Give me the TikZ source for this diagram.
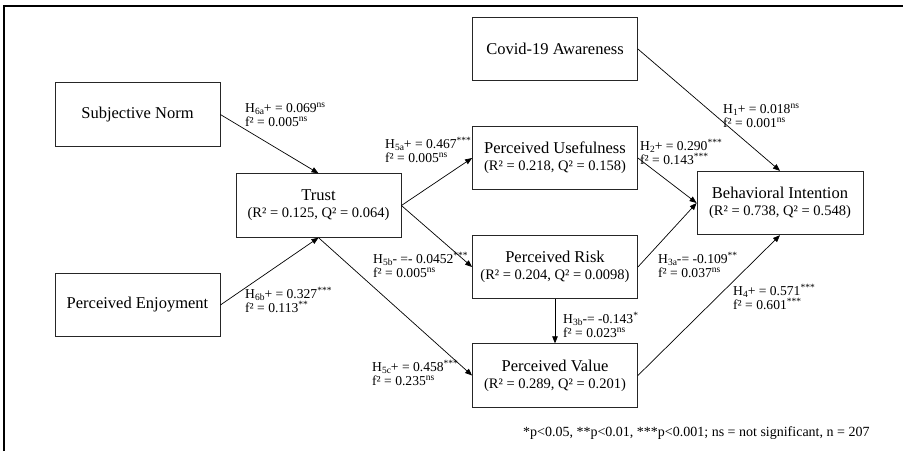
\documentclass[tikz,border=0pt]{standalone}
\usepackage{fontspec}
\setmainfont{Liberation Serif}
\usetikzlibrary{arrows.meta}
\newcommand\fitline[1]{\\[-2pt]{\fontsize{14.5}{17}\selectfont #1}}
\newcommand\sig[1]{\raisebox{4.6pt}{\fontsize{9.5}{10}\selectfont #1}}
\newcommand\hyp[1]{H\raisebox{-2.6pt}{\fontsize{9.5}{10}\selectfont #1}}
\begin{document}
\begin{tikzpicture}[x=1pt,y=-1pt,
  box/.style={draw=black!85, line width=0.8pt, minimum width=165pt, minimum height=63.5pt,
    inner sep=0pt, align=center, font=\fontsize{16.5}{19}\selectfont},
  link/.style={line width=0.7pt, -{Triangle[length=7pt,width=5.5pt]}},
  % labels are anchored at the baseline of their second line
  lab/.style={anchor=base west, align=left, inner sep=0pt, font=\fontsize{13.6}{14.5}\selectfont}]
\useasboundingbox (0,0) rectangle (903,451);

% frame
\draw[line width=2pt] (4,451) -- (4,5.5) -- (903,5.5);

% constructs
\node[box] (sn) at (137.5,114.5) {Subjective Norm};
\node[box] (pe) at (137.5,305) {Perceived Enjoyment};
\node[box] (tr) at (318.5,205.5) {Trust\fitline{(R² = 0.125, Q² = 0.064)}};
\node[box] (cv) at (555,49) {Covid-19 Awareness};
\node[box] (pu) at (555,158) {Perceived Usefulness\fitline{(R² = 0.218, Q² = 0.158)}};
\node[box] (pr) at (555,267) {Perceived Risk\fitline{(R² = 0.204, Q² = 0.0098)}};
\node[box] (pv) at (555,375.5) {Perceived Value\fitline{(R² = 0.289, Q² = 0.201)}};
\node[box, minimum width=166pt] (bi) at (780,203) {Behavioral Intention\fitline{(R² = 0.738, Q² = 0.548)}};

% paths
\draw[link] (sn.east) -- (tr.north);
\draw[link] (pe.east) -- (tr.south);
\draw[link] (tr.east) -- (pu.west);
\draw[link] (tr.east) -- (pr.west);
\draw[link] (tr.south) -- (pv.west);
\draw[link] (cv.east) -- (bi.north);
\draw[link] (pu.east) -- (bi.west);
\draw[link] (pr.east) -- (bi.west);
\draw[link] (pv.east) -- (bi.south);
\draw[link] (pr.south) -- (pv.north);

% path coefficients
\node[lab] (l6a) at (245,126.5) {\hyp{6a}+ = 0.069\sig{ns}\\f² = 0.005\sig{ns}};
\node[lab] (l6b) at (245,312.5) {\hyp{6b}+ = 0.327\sig{***}\\f² = 0.113\sig{**}};
\node[lab] (l5a) at (385,162.5) {\hyp{5a}+ = 0.467\sig{***}\\f² = 0.005\sig{ns}};
\node[lab] (l5b) at (373,277.5) {\hyp{5b}- =- 0.0452\sig{***}\\f² = 0.005\sig{ns}};
\node[lab] (l5c) at (372,385.5) {\hyp{5c}+ = 0.458\sig{***}\\f² = 0.235\sig{ns}};
\node[lab] (l1) at (723,127.5) {\hyp{1}+ = 0.018\sig{ns}\\f² = 0.001\sig{ns}};
\node[lab] (l2) at (640,164.5) {\hyp{2}+ = 0.290\sig{***}\\f² = 0.143\sig{***}};
\node[lab] (l3a) at (658,277.5) {\hyp{3a}-= -0.109\sig{**}\\f² = 0.037\sig{ns}};
\node[lab] (l4) at (733,309.5) {\hyp{4}+ = 0.571\sig{***}\\f² = 0.601\sig{***}};
\node[lab] (l3b) at (563,337.5) {\hyp{3b}-= -0.143\sig{*}\\f² = 0.023\sig{ns}};

% note
\node[anchor=base west, inner sep=0pt, font=\fontsize{14}{16}\selectfont] (note) at (523,436)
  {*p<0.05, **p<0.01, ***p<0.001; ns = not significant, n = 207};
\end{tikzpicture}
\end{document}
